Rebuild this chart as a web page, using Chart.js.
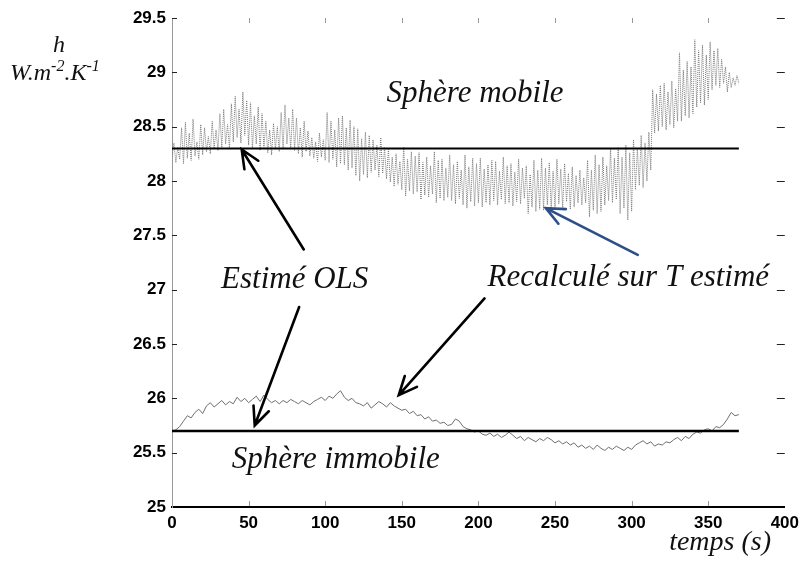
<!DOCTYPE html>
<html>
<head>
<meta charset="utf-8">
<title>h - sphère mobile / immobile</title>
<script src="https://cdn.jsdelivr.net/npm/chart.js@4.4.1/dist/chart.umd.min.js"></script>
<style>
  html, body { margin: 0; padding: 0; background: #fff; }
  #chart { display: block; }
</style>
</head>
<body>
<canvas id="chart" width="805" height="578"></canvas>
<script>
// sampling steps (s), first sample at t = 0
const mobileStep = 1.25;
const immobileStep = 2.5;

// h of the moving sphere, recomputed from the estimated T (W.m-2.K-1)
const mobileValues = [
  28.22,
  28.35, 28.17, 28.31, 28.20, 28.49, 28.16, 28.54, 28.21,
  28.44, 28.19, 28.57, 28.23, 28.36, 28.20, 28.52, 28.24,
  28.49, 28.27, 28.41, 28.25, 28.55, 28.30, 28.47, 28.28,
  28.62, 28.31, 28.66, 28.34, 28.52, 28.30, 28.71, 28.36,
  28.78, 28.40, 28.66, 28.35, 28.82, 28.42, 28.74, 28.33,
  28.72, 28.30, 28.60, 28.34, 28.68, 28.28, 28.62, 28.31,
  28.55, 28.26, 28.47, 28.24, 28.53, 28.29, 28.50, 28.27,
  28.63, 28.30, 28.70, 28.34, 28.58, 28.29, 28.66, 28.28,
  28.58, 28.25, 28.49, 28.22, 28.55, 28.27, 28.46, 28.23,
  28.40, 28.21, 28.36, 28.18, 28.44, 28.22, 28.38, 28.19,
  28.63, 28.17, 28.55, 28.20, 28.47, 28.13, 28.58, 28.16,
  28.60, 28.15, 28.49, 28.10, 28.56, 28.12, 28.50, 28.05,
  28.48, 28.00, 28.39, 28.06, 28.45, 28.03, 28.42, 28.08,
  28.38, 28.10, 28.33, 28.04, 28.40, 28.07, 28.31, 28.02,
  28.29, 27.99, 28.22, 27.95, 28.25, 27.97, 28.18, 27.92,
  28.31, 27.86, 28.20, 27.91, 28.27, 27.88, 28.23, 27.90,
  28.26, 27.83, 28.17, 27.87, 28.22, 27.85, 28.14, 27.88,
  28.27, 27.80, 28.19, 27.84, 28.20, 27.82, 28.12, 27.85,
  28.24, 27.82, 28.15, 27.79, 28.18, 27.84, 28.10, 27.78,
  28.24, 27.75, 28.13, 27.81, 28.21, 27.77, 28.16, 27.80,
  28.21, 27.76, 28.11, 27.80, 28.15, 27.78, 28.19, 27.82,
  28.18, 27.78, 28.09, 27.83, 28.22, 27.79, 28.14, 27.80,
  28.16, 27.77, 28.08, 27.81, 28.20, 27.79, 28.12, 27.84,
  28.14, 27.70, 28.06, 27.76, 28.19, 27.72, 28.10, 27.74,
  28.21, 27.73, 28.12, 27.78, 28.17, 27.75, 28.09, 27.76,
  28.20, 27.79, 28.11, 27.75, 28.16, 27.81, 28.07, 27.74,
  28.13, 27.76, 28.05, 27.80, 28.10, 27.78, 28.03, 27.80,
  28.19, 27.67, 28.10, 27.73, 28.24, 27.70, 28.15, 27.72,
  28.22, 27.78, 28.14, 27.82, 28.30, 27.80, 28.21, 27.83,
  28.31, 27.70, 28.22, 27.75, 28.33, 27.64, 28.26, 27.72,
  28.38, 27.92, 28.30, 27.96, 28.42, 27.94, 28.35, 28.00,
  28.45, 28.10, 28.84, 28.44, 28.80, 28.46, 28.88, 28.50,
  28.90, 28.47, 28.82, 28.52, 28.92, 28.49, 28.85, 28.55,
  29.18, 28.55, 29.02, 28.60, 29.10, 28.58, 29.05, 28.62,
  29.30, 28.68, 29.20, 28.72, 29.25, 28.70, 29.16, 28.75,
  29.28, 28.84, 29.20, 28.88, 29.22, 28.86, 29.12, 28.90,
  29.05, 28.82, 29.00, 28.86, 28.95, 28.88, 28.97, 28.90
];

// h of the fixed sphere, recomputed from the estimated T
const immobileValues = [
  25.70, 25.71, 25.74, 25.79, 25.84, 25.82, 25.87, 25.90, 25.86, 25.93,
  25.96, 25.92, 25.95, 25.98, 25.94, 25.97, 25.95, 26.01, 25.97, 26.00,
  25.96, 25.99, 26.02, 25.97, 26.03, 25.99, 25.96, 25.98, 25.95, 25.98,
  25.96, 25.99, 25.97, 25.95, 25.98, 25.96, 25.94, 25.97, 25.99, 26.01,
  25.98, 26.02, 26.00, 26.04, 26.07, 26.01, 25.98, 26.00, 25.96, 25.95,
  25.93, 25.96, 25.91, 25.94, 25.97, 25.95, 25.92, 25.96, 25.93, 25.91,
  25.89, 25.90, 25.86, 25.88, 25.84, 25.85, 25.81, 25.83, 25.79, 25.80,
  25.77, 25.78, 25.75, 25.76, 25.81, 25.79, 25.74, 25.72, 25.71, 25.69,
  25.70, 25.67, 25.66, 25.68, 25.65, 25.67, 25.64, 25.66, 25.69, 25.66,
  25.63, 25.65, 25.61, 25.64, 25.62, 25.60, 25.63, 25.61, 25.64, 25.62,
  25.59, 25.61, 25.58, 25.60, 25.57, 25.59, 25.55, 25.57, 25.54, 25.56,
  25.53, 25.57, 25.54, 25.52, 25.55, 25.53, 25.56, 25.54, 25.52, 25.55,
  25.53, 25.57, 25.59, 25.61, 25.58, 25.60, 25.56, 25.58, 25.57, 25.60,
  25.59, 25.62, 25.64, 25.61, 25.65, 25.63, 25.67, 25.69, 25.68, 25.71,
  25.72, 25.70, 25.74, 25.73, 25.76, 25.81, 25.87, 25.84, 25.85
];

// OLS estimates, constant over the run
const olsRange = [0, 370];
const olsMobile = 28.3;
const olsImmobile = 25.7;

// axis ticks
const xTicks = [0, 50, 100, 150, 200, 250, 300, 350, 400];
const yTicks = [25, 25.5, 26, 26.5, 27, 27.5, 28, 28.5, 29, 29.5];
const yTickLabels = ['25', '25.5', '26', '26.5', '27', '27.5', '28', '28.5', '29', '29.5'];

// annotations in data units: [x, y]
const notes = [
  { text: 'Sphère mobile', at: [140, 28.8] },
  { text: 'Estimé OLS', at: [32, 27.09] },
  { text: 'Recalculé sur T estimé', at: [206, 27.11] },
  { text: 'Sphère immobile', at: [39, 25.43] }
];
const arrows = [
  { from: [86, 27.37], to: [45.5, 28.29], color: '#000' },
  { from: [83, 26.84], to: [54, 25.75], color: '#000' },
  { from: [204, 26.92], to: [148, 26.03], color: '#000' },
  { from: [304, 27.32], to: [244, 27.75], color: '#2b4f86' }
];

const toPoints = (values, step) => values.map((v, i) => ({ x: i * step, y: v }));

const serif = '"Liberation Serif", "Times New Roman", serif';

// inward tick marks on all four sides, MATLAB style
const boxTicks = {
  id: 'boxTicks',
  afterDraw(chart) {
    const { ctx, chartArea: a, scales: { x, y } } = chart;
    ctx.save();
    ctx.lineWidth = 1;
    ctx.strokeStyle = '#999';
    xTicks.slice(1, -1).forEach(t => {
      const px = Math.round(x.getPixelForValue(t)) + 0.5;
      ctx.beginPath();
      ctx.moveTo(px, a.bottom - 1); ctx.lineTo(px, a.bottom - 6);
      ctx.moveTo(px, a.top); ctx.lineTo(px, a.top + 5);
      ctx.stroke();
    });
    ctx.strokeStyle = '#222';
    yTicks.slice(1).forEach(t => {
      const py = Math.round(y.getPixelForValue(t)) + 0.5;
      ctx.beginPath();
      ctx.moveTo(a.left, py); ctx.lineTo(a.left + 5, py);
      ctx.moveTo(a.right, py); ctx.lineTo(a.right - 8, py);
      ctx.stroke();
    });
    ctx.restore();
  }
};

// texts, arrows and axis titles
const annotations = {
  id: 'annotations',
  afterDraw(chart) {
    const { ctx, scales: { x, y } } = chart;
    ctx.save();
    ctx.fillStyle = '#111';
    ctx.textBaseline = 'middle';
    ctx.textAlign = 'left';
    ctx.font = 'italic 31px ' + serif;
    notes.forEach(n => {
      ctx.fillText(n.text, x.getPixelForValue(n.at[0]), y.getPixelForValue(n.at[1]));
    });

    arrows.forEach(a => {
      const x0 = x.getPixelForValue(a.from[0]), y0 = y.getPixelForValue(a.from[1]);
      const x1 = x.getPixelForValue(a.to[0]), y1 = y.getPixelForValue(a.to[1]);
      const ang = Math.atan2(y1 - y0, x1 - x0);
      const head = 20, spread = 0.42;
      ctx.strokeStyle = a.color;
      ctx.lineWidth = 2.6;
      ctx.lineCap = 'round';
      ctx.beginPath();
      ctx.moveTo(x0, y0); ctx.lineTo(x1, y1);
      ctx.moveTo(x1 - head * Math.cos(ang - spread), y1 - head * Math.sin(ang - spread));
      ctx.lineTo(x1, y1);
      ctx.lineTo(x1 - head * Math.cos(ang + spread), y1 - head * Math.sin(ang + spread));
      ctx.stroke();
    });

    // y axis title: h, W.m-2.K-1
    ctx.font = 'italic 24px ' + serif;
    ctx.fillText('h', 53, 46);
    let px = 10;
    const py = 74;
    const part = (s, size, dy) => {
      ctx.font = 'italic ' + size + 'px ' + serif;
      ctx.fillText(s, px, py + dy);
      px += ctx.measureText(s).width;
    };
    part('W.m', 24, 0);
    part('-2', 16, -7);
    part('.K', 24, 0);
    part('-1', 16, -7);

    // x axis title
    ctx.font = 'italic 28px ' + serif;
    ctx.textAlign = 'right';
    ctx.fillText('temps (s)', 771, 543);
    ctx.restore();
  }
};

new Chart(document.getElementById('chart'), {
  type: 'line',
  data: {
    datasets: [
      {
        label: 'OLS mobile',
        data: olsRange.map(t => ({ x: t, y: olsMobile })),
        borderColor: '#000',
        borderWidth: 2,
        pointRadius: 0
      },
      {
        label: 'OLS immobile',
        data: olsRange.map(t => ({ x: t, y: olsImmobile })),
        borderColor: '#000',
        borderWidth: 2.5,
        pointRadius: 0
      },
      {
        label: 'Sphère mobile',
        data: toPoints(mobileValues, mobileStep),
        borderColor: '#7a7a7a',
        borderWidth: 1,
        borderDash: [1, 1],
        pointRadius: 0,
        tension: 0
      },
      {
        label: 'Sphère immobile',
        data: toPoints(immobileValues, immobileStep),
        borderColor: '#6f6f6f',
        borderWidth: 1,
        pointRadius: 0,
        tension: 0
      }
    ]
  },
  options: {
    responsive: false,
    animation: false,
    devicePixelRatio: 1,
    layout: { padding: { left: 0, right: 17, top: 18, bottom: 0 } },
    plugins: { legend: { display: false }, tooltip: { enabled: false } },
    scales: {
      x: {
        type: 'linear',
        min: 0,
        max: 400,
        afterBuildTicks: s => { s.ticks = xTicks.map(v => ({ value: v })); },
        ticks: {
          color: '#000',
          padding: 6,
          maxRotation: 0,
          font: { family: '"Liberation Sans", Arial, sans-serif', size: 17, weight: 'bold' }
        },
        grid: { display: false, drawTicks: false },
        border: { display: true, color: '#000', width: 2 },
        afterFit: s => { s.height = 71; }
      },
      y: {
        type: 'linear',
        min: 25,
        max: 29.5,
        afterBuildTicks: s => { s.ticks = yTicks.map(v => ({ value: v })); },
        ticks: {
          color: '#000',
          padding: 6,
          callback: (v) => yTickLabels[yTicks.indexOf(v)],
          font: { family: '"Liberation Sans", Arial, sans-serif', size: 17, weight: 'bold' }
        },
        grid: { display: false, drawTicks: false },
        border: { display: true, color: '#999', width: 1 },
        afterFit: s => { s.width = 172; }
      }
    }
  },
  plugins: [boxTicks, annotations]
});
</script>
</body>
</html>
